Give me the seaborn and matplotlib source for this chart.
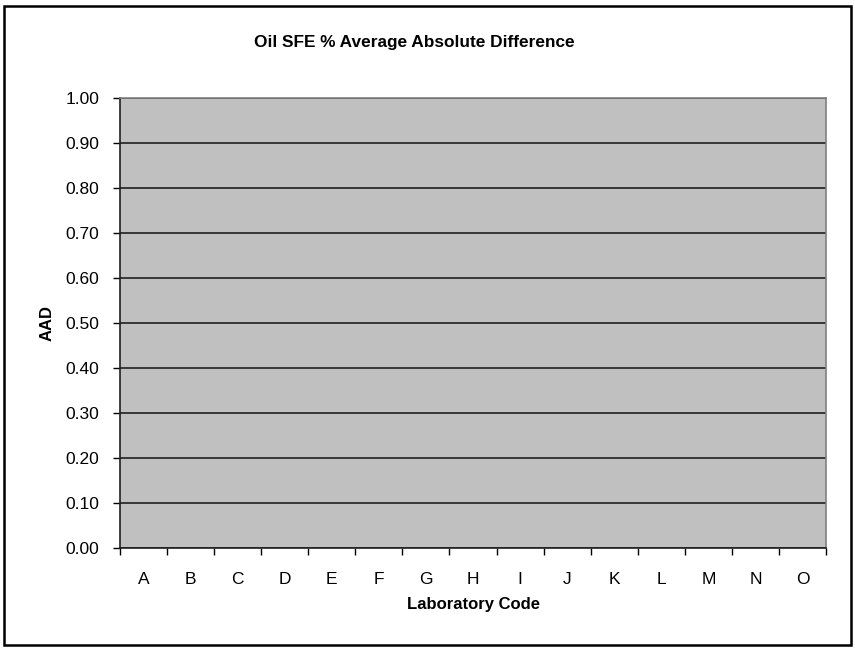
import matplotlib
matplotlib.use("Agg")
import matplotlib.pyplot as plt
import seaborn as sns
import pandas as pd
from matplotlib.patches import Rectangle
from matplotlib.ticker import FixedLocator

labs = ["A", "B", "C", "D", "E", "F", "G", "H", "I", "J", "K", "L", "M", "N", "O"]
aad = [0.0, 0.0, 0.0, 0.0, 0.0, 0.0, 0.0, 0.0, 0.0, 0.0, 0.0, 0.0, 0.0, 0.0, 0.0]
yticks = [0.0, 0.1, 0.2, 0.3, 0.4, 0.5, 0.6, 0.7, 0.8, 0.9, 1.0]

sns.set_style("white")
plt.rcParams["font.family"] = ["Liberation Sans", "DejaVu Sans"]
plt.rcParams["text.color"] = "black"
plt.rcParams["axes.labelcolor"] = "black"
plt.rcParams["xtick.color"] = "black"
plt.rcParams["ytick.color"] = "black"

df = pd.DataFrame({"Lab": labs, "AAD": aad})

fig = plt.figure(figsize=(8.55, 6.51), dpi=100)
ax = fig.add_axes([120/855, 1-548/651, (826-120)/855, (548-98)/651])
ax.set_facecolor("#C0C0C0")

sns.barplot(data=df, x="Lab", y="AAD", ax=ax, color="#9999FF", width=0.6, linewidth=0)

ax.set_xlim(-0.5, len(labs)-0.5)
ax.set_ylim(0, 1.0)
ax.set_yticks(yticks)
ax.set_yticklabels([f"{v:.2f}" for v in yticks])
ax.yaxis.grid(True, color="#202020", linewidth=1.2)
ax.set_axisbelow(True)

ax.tick_params(axis="x", which="major", bottom=True, length=0, pad=17, labelsize=12.5, labelcolor="black")
ax.xaxis.set_minor_locator(FixedLocator([i - 0.5 for i in range(len(labs)+1)]))
ax.tick_params(axis="x", which="minor", bottom=True, length=5, width=1, color="black", direction="out")
ax.tick_params(axis="y", which="major", left=True, length=5, width=1, color="black", direction="out",
               labelsize=12.5, pad=10, labelcolor="black")

for s in ["left", "bottom"]:
    ax.spines[s].set_color("#202020")
    ax.spines[s].set_linewidth(1.2)
for s in ["top", "right"]:
    ax.spines[s].set_color("#808080")
    ax.spines[s].set_linewidth(1.2)

ax.set_xlabel("Laboratory Code", fontsize=12, fontweight="bold", labelpad=7.5, color="black")
ax.set_ylabel("AAD", fontsize=12, fontweight="bold", labelpad=7.5, color="black")
fig.text(414/855, 1-42/651, "Oil SFE % Average Absolute Difference", ha="center", va="center",
         fontsize=12.4, fontweight="bold", color="black")

fig.patches.append(Rectangle((4/855, 6/651), (851-4)/855, (645-6)/651, transform=fig.transFigure,
                             fill=False, edgecolor="black", linewidth=1.8))

fig.savefig("out.png", dpi=100)
